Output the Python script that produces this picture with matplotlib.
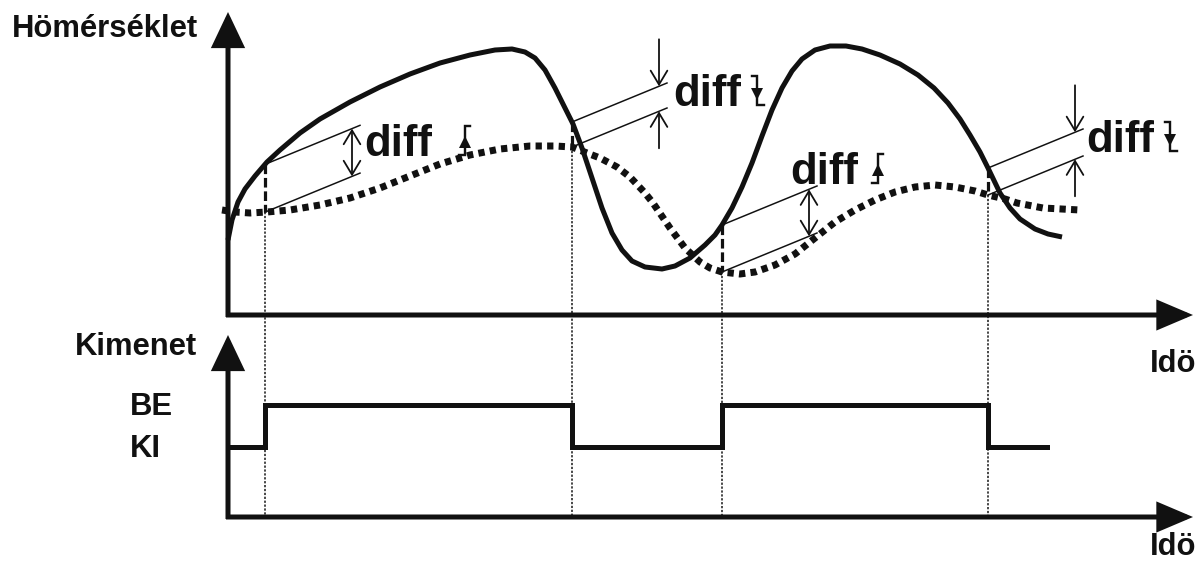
import numpy as np
import matplotlib
matplotlib.use("Agg")
import matplotlib.pyplot as plt
from matplotlib.patches import FancyArrowPatch

# ---------------- data (pixel-space diagram coordinates) ----------------
# measured temperature (solid curve)
temp_x = [228, 232, 238, 245, 255, 267, 280, 300, 320, 350, 380, 410, 440, 470,
          495, 512, 525, 535, 545, 555, 565, 573, 582, 592, 602, 612, 622, 632,
          645, 662, 675, 690, 705, 715, 722, 732, 742, 752, 762, 772, 782, 792,
          802, 815, 830, 846, 862, 880, 900, 918, 934, 948, 960, 970, 980, 988,
          1000, 1010, 1020, 1035, 1048, 1062]
temp_y = [240, 220, 202, 189, 176, 162, 150, 133, 119, 102, 87, 74, 63, 55,
          50, 49, 52, 58, 70, 88, 108, 124, 148, 178, 208, 233, 250, 261,
          267, 269, 266, 258, 245, 235, 225, 208, 187, 163, 136, 110, 88, 71,
          59, 50, 46, 46, 49, 55, 64, 75, 88, 103, 119, 135, 152, 168,
          193, 208, 219, 229, 234, 237]

# set point (dotted curve)
set_x = [222, 235, 250, 267, 290, 320, 350, 380, 410, 440, 470, 500, 530, 555,
         572, 587, 600, 617, 630, 645, 653, 670, 685, 700, 710, 722, 740, 755,
         775, 795, 815, 835, 855, 875, 895, 915, 935, 955, 975, 988, 1005,
         1017, 1043, 1080]
set_y = [210, 212, 213, 212, 210, 205, 198, 188, 176, 164, 155, 149, 146, 146,
         147, 153, 158, 167, 177, 193, 203, 228, 248, 262, 268, 272, 274, 272,
         265, 254, 238, 222, 210, 200, 192, 187, 185, 187, 191, 195, 199,
         203, 208, 210]

# switching instants and output state (0 = KI, 1 = BE)
switch_x = [265, 572, 722, 988]
switch_dir = ["up", "down", "up", "down"]
step_x = [228, 265, 572, 722, 988, 1047]
step_state = [0, 1, 0, 1, 0, 0]
state_y = {0: 447, 1: 405}

# labels
y_label_top = "Hömérséklet"
y_label_bottom = "Kimenet"
x_label = "Idö"
state_labels = ["BE", "KI"]
diff_text = "diff"
diff_text_pos = [(364, 156), (673, 106), (790, 184), (1086, 152)]
symbol_x = [465, 757, 878, 1170]

# ---------------- figure ----------------
W, H = 1201, 567
fig = plt.figure(figsize=(W / 100, H / 100), dpi=100)
ax = fig.add_axes([0, 0, 1, 1])
ax.set_xlim(0, W)
ax.set_ylim(H, 0)
ax.axis("off")

FONT = "Liberation Sans"
K = "#111111"
px = 72 / 100  # points per pixel


def arrow(p0, p1, lw, hl, hw, style="-|>"):
    a = FancyArrowPatch(p0, p1, arrowstyle=f"{style},head_length={hl},head_width={hw}",
                        mutation_scale=1, lw=lw, color=K, shrinkA=0, shrinkB=0,
                        joinstyle="miter", capstyle="butt")
    ax.add_patch(a)


# axes with arrows
axis_lw = 5 * px
arrow((228, 317), (228, 12), axis_lw, 20, 9.5)
arrow((226, 315), (1193, 315), axis_lw, 20, 8.5)
arrow((228, 519), (228, 335), axis_lw, 20, 9.5)
arrow((226, 517), (1193, 517), axis_lw, 20, 8.5)

# curves
ax.plot(temp_x, temp_y, color=K, lw=5 * px, solid_capstyle="butt",
        solid_joinstyle="round", zorder=3)
ax.plot(set_x, set_y, color=K, lw=7 * px, dashes=(0.9, 0.75),
        dash_capstyle="butt", zorder=3)

# output step
ax.step(step_x, [state_y[s] for s in step_state], where="post", color=K,
        lw=5 * px, solid_joinstyle="miter", zorder=3)

# switching markers
for sx, d in zip(switch_x, switch_dir):
    ys = float(np.interp(sx, temp_x, temp_y))
    yd = float(np.interp(sx, set_x, set_y))
    ax.plot([sx, sx], [ys, yd], color=K, lw=3.2 * px, dashes=(3, 1.2), zorder=2)
    ax.plot([sx, sx], [yd, 517], color=K, lw=1.5 * px, dashes=(1.5, 1.1), zorder=1)
    # parallel thin lines
    dx, dy = 95, -39
    ax.plot([sx, sx + dx], [ys, ys + dy], color=K, lw=1.5 * px, zorder=2)
    ax.plot([sx, sx + dx], [yd, yd + dy], color=K, lw=1.5 * px, zorder=2)
    ax_x = sx + 87
    yu = ys + dy * 87 / dx
    yl = yd + dy * 87 / dx
    if d == "up":
        a = FancyArrowPatch((ax_x, yl), (ax_x, yu),
                            arrowstyle="<->,head_length=10,head_width=6",
                            mutation_scale=1, lw=1.8 * px, color=K,
                            shrinkA=0, shrinkB=0)
        ax.add_patch(a)
    else:
        for y0, y1 in [(yu - 47, yu), (yl + 37, yl)]:
            a = FancyArrowPatch((ax_x, y0), (ax_x, y1),
                                arrowstyle="->,head_length=10,head_width=6",
                                mutation_scale=1, lw=1.8 * px, color=K,
                                shrinkA=0, shrinkB=0)
            ax.add_patch(a)

# diff labels with hysteresis symbols
for (tx, ty), sx, d in zip(diff_text_pos, symbol_x, switch_dir):
    ax.text(tx, ty, diff_text, fontsize=31.5, fontweight="bold",
            family=FONT, ha="left", va="baseline", color=K)
    yt, yb = ty - 30, ty - 1
    if d == "up":
        ax.plot([sx - 6, sx, sx, sx + 5], [yb, yb, yt, yt], color=K, lw=2.4 * px,
                solid_joinstyle="miter")
        ax.plot([sx], [(yt + yb) / 2 + 1], marker="^", ms=8, color=K, mew=0)
    else:
        ax.plot([sx - 5, sx, sx, sx + 7], [yt, yt, yb, yb], color=K, lw=2.4 * px,
                solid_joinstyle="miter")
        ax.plot([sx], [(yt + yb) / 2 + 3], marker="v", ms=8, color=K, mew=0)

# text labels
lab = dict(fontsize=22.3, fontweight="bold", family=FONT, ha="left",
           va="baseline", color=K)
ax.text(12, 37, y_label_top, **lab)
ax.text(75, 355, y_label_bottom, **lab)
ax.text(130, 415, state_labels[0], **lab)
ax.text(130, 457, state_labels[1], **lab)
ax.text(1150, 372, x_label, **lab)
ax.text(1150, 555, x_label, **lab)

fig.savefig("out.png", dpi=100)
